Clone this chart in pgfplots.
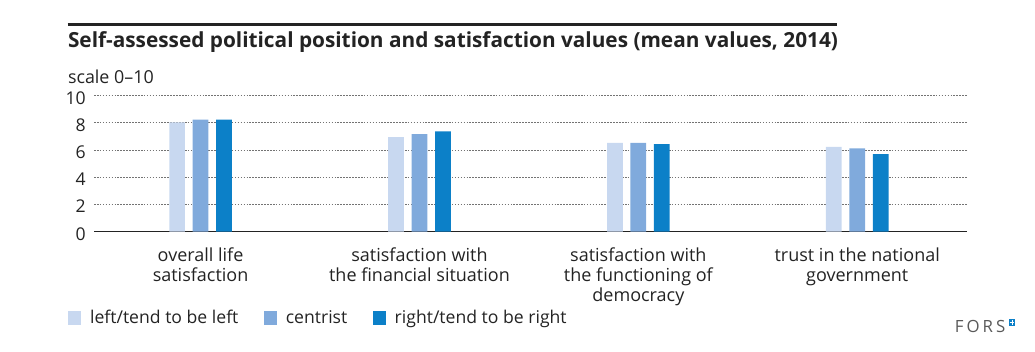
\documentclass[border=0pt]{standalone}
\usepackage{fontspec}
\setmainfont{Open Sans}
\newfontfamily\forsfont[LetterSpace=18]{Open Sans}
\usepackage{pgfplots}
\pgfplotsset{compat=1.18}
\definecolor{cleft}{RGB}{200,216,240}
\definecolor{ccent}{RGB}{128,170,220}
\definecolor{cright}{RGB}{12,128,200}
\definecolor{txt}{RGB}{35,35,35}
\begin{document}
\begin{tikzpicture}
\path[use as bounding box] (0,0) rectangle (776.25pt,264pt);
\draw[line width=2.2pt, color=txt] (50.8pt,245.8pt) -- (628pt,245.8pt);
\node[anchor=base west, inner sep=0pt, font=\fontsize{15.6}{18}\selectfont\bfseries, text=txt] at (50.8pt,228.2pt) {Self-assessed political position and satisfaction values (mean values, 2014)};
\node[anchor=base west, inner sep=0pt, font=\fontsize{13.4}{15}\selectfont, text=txt] at (50.8pt,201pt) {scale 0--10};
\begin{axis}[
  at={(70.5pt,90.2pt)}, anchor=south west,
  scale only axis, width=654.5pt, height=102pt,
  xmin=-0.487, xmax=3.5, ymin=0, ymax=10,
  axis lines*=left,
  y axis line style={draw=none},
  x axis line style={line width=1.1pt, color=txt, -},
  tick style={draw=none},
  ytick={0,2,4,6,8,10},
  ymajorgrids,
  grid style={dash pattern=on 1.2pt off 1pt, line width=0.7pt, color=black!55},
  /pgf/number format/assume math mode=true,
  yticklabel style={font=\fontsize{13.2}{15}\selectfont, text=txt, inner sep=0pt, xshift=-6pt, yshift=-1.5pt},
  xtick={0,1,2,3},
  xticklabels={{overall life\\satisfaction},{satisfaction with\\the financial situation},{satisfaction with\\the functioning of\\democracy},{trust in the national\\government}},
  xticklabel style={font=\fontsize{13.5}{15}\selectfont, text=txt, align=center, anchor=north, inner sep=0pt, yshift=-11.8pt},
  legend style={at={(rel axis cs:0,0)}, anchor=west, xshift=-19.7pt, yshift=-64.7pt, draw=none, fill=none, inner sep=0pt,
    font=\fontsize{13.2}{15}\selectfont, text=txt, legend columns=-1,
    /tikz/every odd column/.append style={column sep=4.8pt},
    /tikz/every even column/.append style={column sep=17pt}},
  legend image code/.code={\fill[#1] (0pt,-4.9pt) rectangle (9.75pt,4.9pt);},
]
\addplot[ybar, bar width=11.8pt, bar shift=-17.6pt, fill=cleft, draw=none] coordinates {(0,8.04) (1,6.96) (2,6.54) (3,6.24)};
\addplot[ybar, bar width=11.8pt, bar shift=0pt, fill=ccent, draw=none] coordinates {(0,8.24) (1,7.18) (2,6.54) (3,6.13)};
\addplot[ybar, bar width=11.8pt, bar shift=17.6pt, fill=cright, draw=none] coordinates {(0,8.24) (1,7.38) (2,6.45) (3,5.71)};
\legend{left/tend to be left, centrist, right/tend to be right}
\end{axis}
\node[anchor=base west, inner sep=0pt, font=\forsfont\fontsize{12.6}{15}\selectfont, text=black!65] at (716pt,14.8pt) {FORS};
\fill[cright] (756.5pt,19.5pt) rectangle (761.5pt,24.5pt);
\draw[white, line width=0.5pt] (757.3pt,22pt) -- (760.7pt,22pt) (759pt,20.3pt) -- (759pt,23.7pt);
\end{tikzpicture}
\end{document}
